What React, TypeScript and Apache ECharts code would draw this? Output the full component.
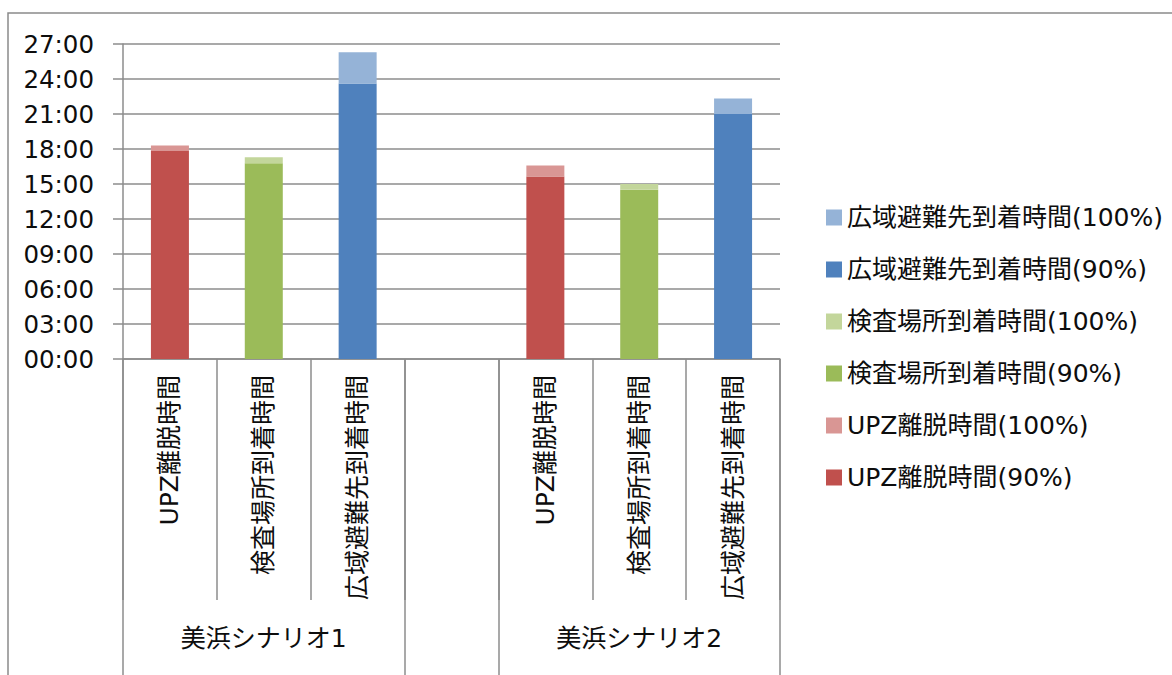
import React, { useEffect, useRef } from "react";
import * as echarts from "echarts";

// ---- data ----
const categories = [
  "UPZ離脱時間",
  "検査場所到着時間",
  "広域避難先到着時間",
  "",
  "UPZ離脱時間",
  "検査場所到着時間",
  "広域避難先到着時間",
];
const time90 = ["17:50", "16:47", "23:37", null, "15:38", "14:30", "21:00"];
const time100 = ["18:18", "17:18", "26:17", null, "16:35", "15:00", "22:20"];
const groupNames = ["美浜シナリオ1", "", "美浜シナリオ2"];
const groupStarts = [0, 3, 4];
const groupEnds = [3, 4, 7];
const measures = ["UPZ離脱時間", "検査場所到着時間", "広域避難先到着時間"];
const yTickLabels = ["00:00", "03:00", "06:00", "09:00", "12:00", "15:00", "18:00", "21:00", "24:00", "27:00"];
const yStep = 3;

const colors90 = ["#C0504D", "#9BBB59", "#4F81BD"];
const colors100 = ["#D99694", "#C3D69B", "#95B3D7"];

const toHours = (s: string | null) => {
  if (!s) return null;
  const [h, m] = s.split(":").map(Number);
  return h + m / 60;
};

const FONT = "'DejaVu Sans', 'Noto Sans CJK JP', sans-serif";
const GRID_COLOR = "#8c8c8c";
const TEXT_COLOR = "#0d0d0d";

export default function App() {
  const ref = useRef<HTMLDivElement>(null);
  useEffect(() => {
    document.body.style.margin = "0";
    if (!ref.current) return;
    const chart = echarts.init(ref.current, null, { renderer: "svg" });

    const series: any[] = [];
    measures.forEach((m, k) => {
      series.push({
        name: `${m}(90%)`,
        type: "bar",
        stack: "total",
        barWidth: 38,
        itemStyle: { color: colors90[k] },
        data: categories.map((c, i) => (c === m ? toHours(time90[i]) : null)),
      });
      series.push({
        name: `${m}(100%)`,
        type: "bar",
        stack: "total",
        barWidth: 38,
        itemStyle: { color: colors100[k] },
        data: categories.map((c, i) =>
          c === m ? (toHours(time100[i]) as number) - (toHours(time90[i]) as number) : null
        ),
      });
    });

    const legendOrder: string[] = [];
    for (let k = measures.length - 1; k >= 0; k--) {
      legendOrder.push(`${measures[k]}(100%)`);
      legendOrder.push(`${measures[k]}(90%)`);
    }

    const groupBounds = Array.from(new Set([...groupStarts, ...groupEnds])).sort((a, b) => a - b);
    const groupCenters = groupNames
      .map((n, i) => ({ n, c: (groupStarts[i] + groupEnds[i]) / 2 }))
      .filter((g) => g.n !== "");

    chart.setOption({
      animation: false,
      textStyle: { fontFamily: FONT },
      graphic: [
        {
          type: "rect",
          shape: { x: 8, y: 13, width: 1400, height: 900 },
          style: { fill: "none", stroke: "#8a8a8a", lineWidth: 1.5 },
          silent: true,
        },
      ],
      grid: { left: 123, right: 392, top: 44, bottom: 316, containLabel: false },
      legend: {
        orient: "vertical",
        left: 821,
        top: 200,
        itemWidth: 16,
        itemHeight: 16,
        itemGap: 27,
        icon: "rect",
        selectedMode: false,
        data: legendOrder,
        textStyle: {
          fontFamily: FONT,
          fontSize: 25,
          color: TEXT_COLOR,
          lineHeight: 25,
          padding: [0, 0, 0, 0],
        },
      },
      xAxis: [
        {
          type: "category",
          data: categories,
          boundaryGap: true,
          axisLine: { show: true, lineStyle: { color: GRID_COLOR, width: 1.5 } },
          axisTick: {
            show: true,
            interval: 0,
            length: 241,
            lineStyle: { color: GRID_COLOR, width: 1.5 },
          },
          axisLabel: {
            interval: 0,
            rotate: 90,
            margin: 16,
            fontSize: 25,
            color: TEXT_COLOR,
            fontFamily: FONT,
          },
          splitLine: { show: false },
        },
        {
          type: "value",
          min: 0,
          max: categories.length,
          position: "bottom",
          axisLine: { show: false },
          splitLine: { show: false },
          axisTick: {
            show: true,
            customValues: groupBounds,
            length: 320,
            lineStyle: { color: GRID_COLOR, width: 1.5 },
          },
          axisLabel: {
            show: true,
            customValues: groupCenters.map((g) => g.c),
            formatter: (v: number) => {
              const g = groupCenters.find((x) => Math.abs(x.c - v) < 1e-6);
              return g ? g.n : "";
            },
            margin: 267,
            fontSize: 25,
            color: TEXT_COLOR,
            fontFamily: FONT,
          },
        },
      ],
      yAxis: {
        type: "value",
        min: 0,
        max: (yTickLabels.length - 1) * yStep,
        interval: yStep,
        axisLine: { show: true, lineStyle: { color: GRID_COLOR, width: 1.5 } },
        axisTick: { show: true, length: 10, lineStyle: { color: GRID_COLOR, width: 1.5 } },
        splitLine: { show: true, lineStyle: { color: GRID_COLOR, width: 1.5 } },
        axisLabel: {
          margin: 29,
          fontSize: 24.5,
          color: TEXT_COLOR,
          fontFamily: FONT,
          formatter: (v: number) => yTickLabels[Math.round(v / yStep)] ?? "",
        },
      },
      series,
    });
    return () => chart.dispose();
  }, []);
  return <div ref={ref} style={{ width: 1172, height: 675 }} />;
}
